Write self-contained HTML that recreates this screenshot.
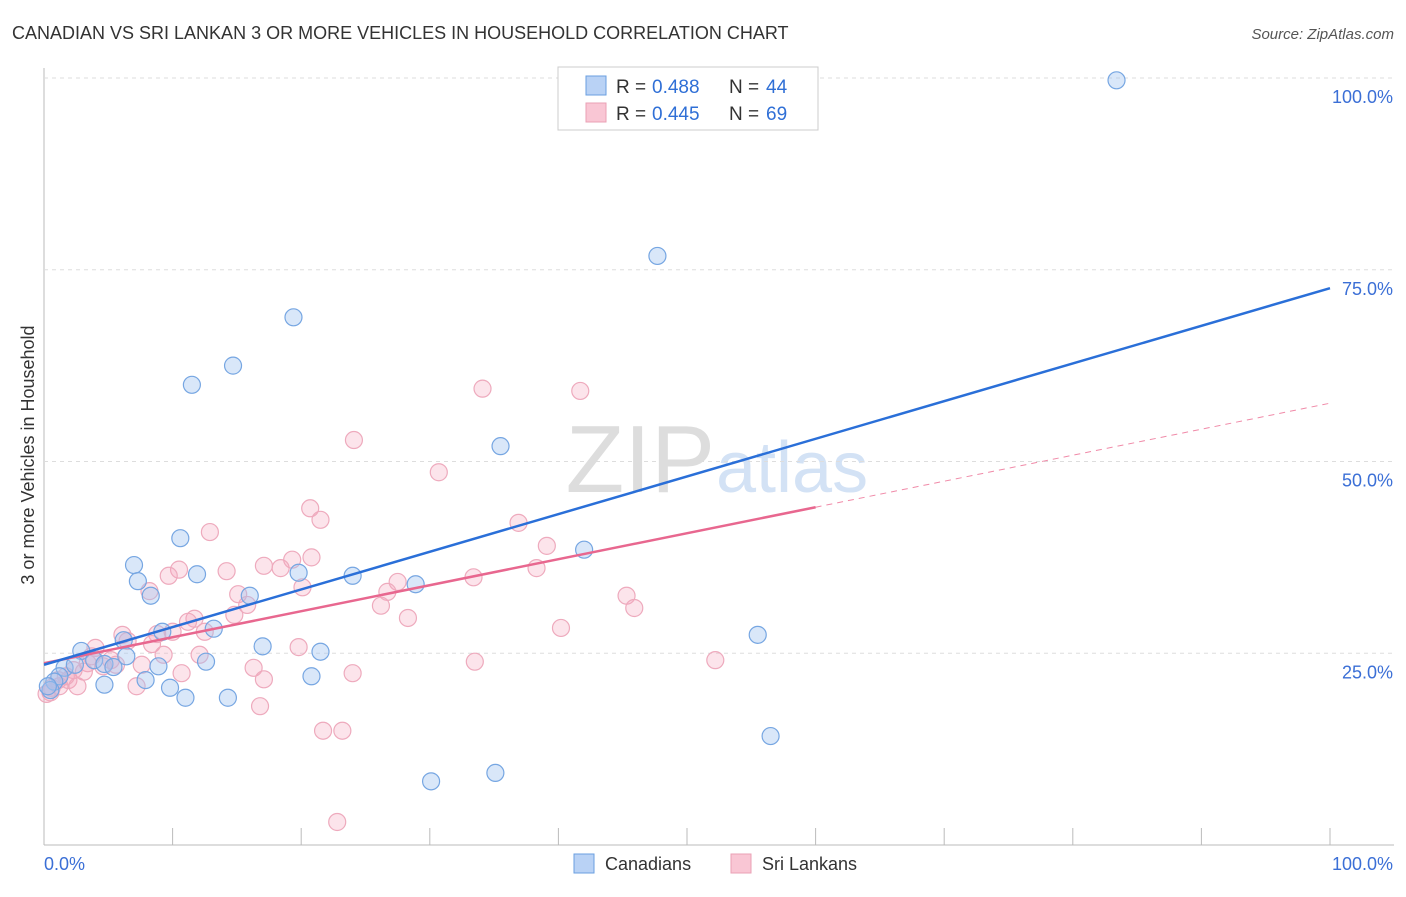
<!DOCTYPE html>
<html><head><meta charset="utf-8"><style>
body{margin:0;background:#fff;font-family:"Liberation Sans",sans-serif;}
svg text{font-family:"Liberation Sans",sans-serif;}
</style></head><body>
<svg id="chart" width="1406" height="892">
<text x="12" y="39" font-size="18" fill="#333">CANADIAN VS SRI LANKAN 3 OR MORE VEHICLES IN HOUSEHOLD CORRELATION CHART</text>
<text x="1394" y="39" font-size="15" fill="#555" font-style="italic" text-anchor="end">Source: ZipAtlas.com</text>
<text x="715" y="492" font-size="96" fill="#ddd" text-anchor="end" font-family="Liberation Serif">ZIP</text>
<text x="716" y="492" font-size="72" fill="#d3e2f5">atlas</text>
<text transform="translate(34,455) rotate(-90)" font-size="18" fill="#333" text-anchor="middle">3 or more Vehicles in Household</text>
<g id="grid"></g><g id="pts"></g><g id="lines"></g>
<g>
<rect x="558" y="67" width="260" height="63" fill="#fff" stroke="#ccc"/>
<rect x="586" y="76" width="20" height="19" fill="#b9d2f5" stroke="#6a9fe0"/>
<rect x="586" y="103" width="20" height="19" fill="#f9c6d4" stroke="#eaa0b5"/>
<text x="616" y="93" font-size="19" fill="#333">R =</text><text x="652" y="93" font-size="19" fill="#2f6fd6">0.488</text>
<text x="729" y="93" font-size="19" fill="#333">N =</text><text x="766" y="93" font-size="19" fill="#2f6fd6">44</text>
<text x="616" y="120" font-size="19" fill="#333">R =</text><text x="652" y="120" font-size="19" fill="#2f6fd6">0.445</text>
<text x="729" y="120" font-size="19" fill="#333">N =</text><text x="766" y="120" font-size="19" fill="#2f6fd6">69</text>
</g>
<g>
<rect x="574" y="854" width="20" height="19" fill="#b9d2f5" stroke="#6a9fe0"/>
<text x="605" y="870" font-size="18" fill="#333">Canadians</text>
<rect x="731" y="854" width="20" height="19" fill="#f9c6d4" stroke="#eaa0b5"/>
<text x="762" y="870" font-size="18" fill="#333">Sri Lankans</text>
</g>
<text x="44" y="870" font-size="18" fill="#3b6fd6">0.0%</text>
<text x="1393" y="870" font-size="18" fill="#3b6fd6" text-anchor="end">100.0%</text>
</svg>
<script>
const yTicks=[25,50,75,100];
const yTickLabels=["25.0%","50.0%","75.0%","100.0%"];
const xTicks=[0,10,20,30,40,50,60,70,80,90,100];
const blueX=[83.4,47.7,19.4,14.7,11.5,35.5,10.6,42.0,7.0,7.3,11.9,19.8,24.0,28.9,8.3,16.0,9.2,13.2,6.2,17.0,55.5,2.9,21.5,6.4,12.6,3.9,8.9,4.7,5.4,1.6,1.2,7.9,20.8,0.8,4.7,9.8,11.0,14.3,0.5,56.5,30.1,35.1,0.3,2.4];
const blueY=[99.7,76.8,68.8,62.5,60.0,52.0,40.0,38.5,36.5,34.4,35.3,35.5,35.1,34.0,32.5,32.5,27.8,28.2,26.7,25.9,27.4,25.3,25.2,24.6,23.9,24.1,23.3,23.6,23.2,23.1,22.0,21.5,22.0,21.3,20.9,20.5,19.2,19.2,20.2,14.2,8.3,9.4,20.7,23.5];
const pinkX=[34.1,41.7,24.1,30.7,20.7,21.5,36.9,12.9,39.1,20.8,19.3,17.1,18.4,10.5,9.7,14.2,33.4,38.3,27.5,26.7,20.1,8.2,15.1,15.8,26.2,28.3,45.3,45.9,14.8,11.7,11.2,12.5,10.0,8.8,40.2,6.1,6.5,8.4,19.8,4.0,9.3,12.1,5.2,3.4,4.6,7.6,16.3,52.2,33.5,24.0,10.7,17.1,3.1,1.9,2.6,1.2,7.2,1.1,0.5,0.2,16.8,21.7,23.2,22.8,2.3,3.7,5.6,0.6,1.7];
const pinkY=[59.5,59.2,52.8,48.6,43.9,42.4,42.0,40.8,39.0,37.5,37.2,36.4,36.1,35.9,35.1,35.7,34.9,36.1,34.3,33.0,33.6,33.1,32.7,31.3,31.2,29.6,32.5,30.9,30.0,29.5,29.1,27.8,27.8,27.5,28.3,27.4,26.6,26.2,25.8,25.7,24.8,24.8,24.1,23.7,23.3,23.5,23.1,24.1,23.9,22.4,22.4,21.6,22.6,21.5,20.7,20.7,20.7,21.5,19.9,19.7,18.1,14.9,14.9,3.0,22.8,24.6,23.5,20.5,22.0];
const blueFit=[23.5,72.6];
const pinkFit=[23.7,57.6];
const pinkSolidEnd=60;
const NS="http://www.w3.org/2000/svg";
const sx=v=>44+v*12.86, sy=v=>845-v*7.67;
function mk(t,a,p){const e=document.createElementNS(NS,t);for(const k in a)e.setAttribute(k,a[k]);p.appendChild(e);return e;}
const grid=document.getElementById('grid');
const ax=mk('line',{x1:44,y1:68,x2:44,y2:845,stroke:'#bbb'},grid);


const bx=mk('line',{x1:44,y1:845,x2:1394,y2:845,stroke:'#bbb'},grid);


yTicks.forEach((v,i)=>{
 const g=mk('line',{x1:44,x2:1394,y1:sy(v),y2:sy(v),stroke:'#ddd','stroke-dasharray':'4,4'},grid);
 
 
 const t=mk('text',{x:1393,y:sy(v)+25,'font-size':18,fill:'#3b6fd6','text-anchor':'end'},grid);
 t.textContent=yTickLabels[i];
 
 
});
xTicks.forEach(v=>{
 const l=mk('line',{x1:sx(v),x2:sx(v),y1:828,y2:845,stroke:'#bbb'},grid);
 
 
});
const pts=document.getElementById('pts');
pinkX.forEach((x,i)=>{
 const c=mk('circle',{cx:sx(x),cy:sy(pinkY[i]),r:8.5,fill:'rgba(244,165,188,0.3)',stroke:'#eeaabd','stroke-width':1.2},pts);
 
 
});
blueX.forEach((x,i)=>{
 const c=mk('circle',{cx:sx(x),cy:sy(blueY[i]),r:8.5,fill:'rgba(160,196,240,0.4)',stroke:'#76a6e2','stroke-width':1.2},pts);
 
 
});
const lines=document.getElementById('lines');
const pAt=x=>pinkFit[0]+(pinkFit[1]-pinkFit[0])*x/100;
const pd=mk('line',{x1:sx(pinkSolidEnd),y1:sy(pAt(pinkSolidEnd)),x2:sx(100),y2:sy(pinkFit[1]),stroke:'#f08aa8','stroke-width':1,'stroke-dasharray':'6,5'},lines);


const ps=mk('line',{x1:sx(0),y1:sy(pinkFit[0]),x2:sx(pinkSolidEnd),y2:sy(pAt(pinkSolidEnd)),stroke:'#e8678f','stroke-width':2.5},lines);


const bl=mk('line',{x1:sx(0),y1:sy(blueFit[0]),x2:sx(100),y2:sy(blueFit[1]),stroke:'#2a6fd8','stroke-width':2.5},lines);


</script>
</body></html>
